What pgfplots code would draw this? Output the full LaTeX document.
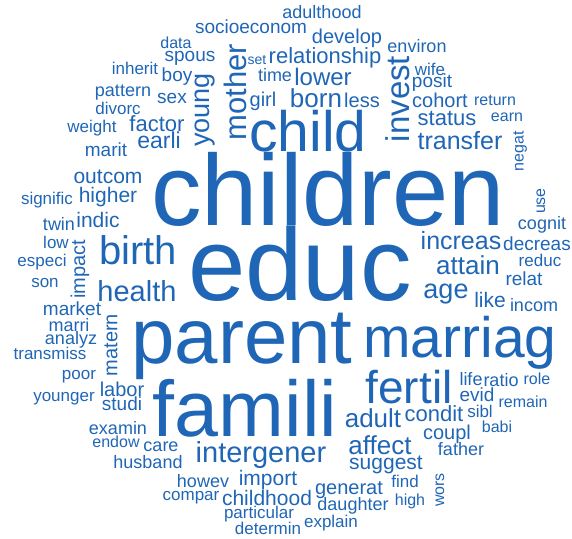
\documentclass[border=0pt]{standalone}
\usepackage{fontspec}
\setmainfont{Liberation Sans}
\usepackage{pgfplots}
\usepackage{pgfplotstable}
\pgfplotsset{compat=1.18}
\definecolor{wc}{RGB}{31,102,182}
\pgfplotstableread{
word x y s r
children 328 189 101 0
educ 300 264 103 0
parent 242 346 78 0
famili 245 408 79 0
marriag 460 343 57 0
child 308 131 57 0
fertil 409 387 46 0
birth 138 250 40 0
health 137 291 29 0
intergener 261 455 29 0
invest 398 99 33 90
mother 235 92 31 90
young 205 110 27 90
relationship 325 58 22 0
lower 323 77 24 0
time 275 75 18 0
born 316 98 26 0
less 362 100 20 0
girl 263 101 20 0
set 257 60 14 0
socioeconom 251 27 19 0
adulthood 322 12 18 0
develop 347 38 20 0
environ 417 46 18 0
wife 430 69 17 0
posit 432 83 19 0
cohort 440 100 20 0
return 495 100 16 0
status 447 118 22 0
earn 507 117 16 0
transfer 460 141 25 0
negat 520 151 16 90
use 541 201 16 90
cognit 542 225 18 0
increas 461 241 25 0
decreas 537 244 19 0
attain 468 265 26 0
reduc 540 260 17 0
relat 524 279 19 0
age 446 294 27 0
like 490 300 21 0
incom 534 305 18 0
life 471 379 18 0
ratio 501 380 18 0
role 537 379 16 0
evid 477 395 19 0
remain 523 402 16 0
sibl 480 411 17 0
adult 373 418 26 0
condit 434 414 22 0
babi 497 427 16 0
coupl 447 434 20 0
affect 380 445 26 0
father 461 449 18 0
suggest 386 465 21 0
find 405 481 17 0
wors 440 490 16 90
generat 349 490 20 0
high 410 501 16 0
daughter 353 506 18 0
explain 331 523 17 0
childhood 267 498 21 0
import 268 480 21 0
particular 259 514 17 0
determin 268 528 17 0
howev 203 481 18 0
compar 191 498 17 0
husband 148 462 18 0
care 161 447 18 0
endow 116 442 16 0
examin 118 428 18 0
studi 122 404 19 0
labor 122 389 20 0
younger 64 399 17 0
poor 79 377 17 0
transmiss 50 353 17 0
matern 111 345 20 90
impact 80 269 20 90
analyz 71 340 18 0
marri 69 325 18 0
market 72 309 19 0
son 45 283 17 0
especi 42 262 17 0
low 56 242 17 0
twin 59 224 18 0
indic 98 220 21 0
signific 47 200 17 0
higher 108 197 21 0
outcom 108 177 21 0
data 176 43 16 0
spous 190 58 19 0
inherit 135 68 17 0
boy 177 77 19 0
pattern 123 93 18 0
sex 172 98 19 0
divorc 118 108 17 0
weight 92 128 17 0
factor 157 124 22 0
earli 159 140 23 0
marit 106 150 19 0
}\words
\begin{document}
\begin{tikzpicture}
\begin{axis}[
  scale only axis, width=572bp, height=539bp,
  xmin=0, xmax=572, ymin=0, ymax=539, y dir=reverse,
  hide axis, clip=false,
]
\addplot[only marks, mark=none,
  point meta=explicit symbolic,
  visualization depends on={\thisrow{s}\as\fs},
  visualization depends on={\thisrow{r}\as\rot},
  nodes near coords,
  every node near coord/.append style={anchor=center, inner sep=0pt, text=wc,
    rotate=\rot, font={\fontsize{\fs bp}{\fs bp}\selectfont}},
] table[x=x, y=y, meta=word] {\words};
\end{axis}
\pgfresetboundingbox
\path (current axis.south west) rectangle (current axis.north east);
\end{tikzpicture}
\end{document}
